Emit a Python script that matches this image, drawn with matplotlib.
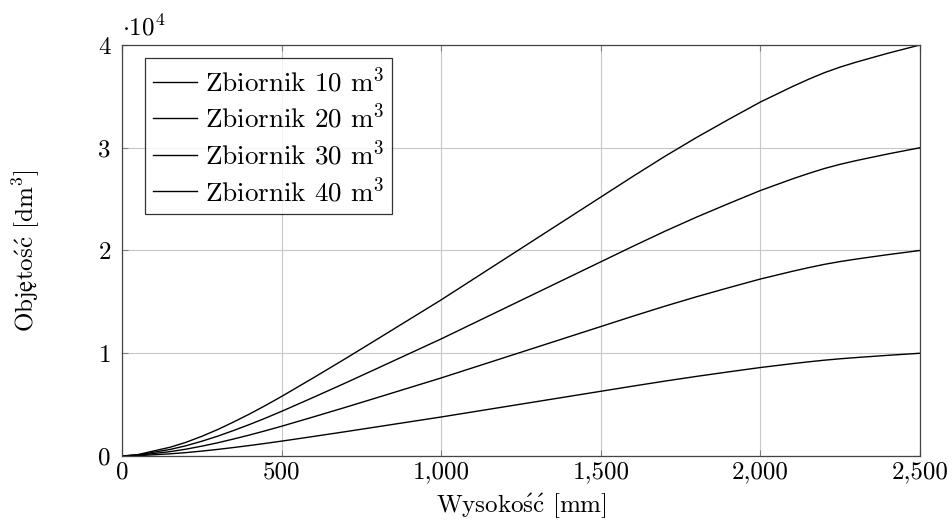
import matplotlib
matplotlib.use("Agg")
import matplotlib.pyplot as plt
from matplotlib.ticker import FuncFormatter

plt.rcParams["font.family"] = ["cmr10", "DejaVu Serif"]
plt.rcParams["mathtext.fontset"] = "cm"
plt.rcParams["axes.formatter.use_mathtext"] = True

# height of liquid [mm]
height = [0, 50, 100, 150, 200, 250, 300, 350, 400, 450, 500,
          600, 700, 800, 900, 1000, 1100, 1200, 1300, 1400, 1500,
          1600, 1700, 1800, 1900, 2000, 2100, 2150, 2200, 2250, 2300,
          2400, 2500]

# volume [dm3]
tank_10 = [0, 35, 125, 213, 333, 480, 645, 830, 1025, 1233, 1450,
           1905, 2370, 2845, 3323, 3800, 4300, 4800, 5300, 5800, 6300,
           6800, 7288, 7750, 8188, 8613, 8988, 9163, 9325, 9463, 9583,
           9800, 10000]
tank_20 = [0, 70, 250, 425, 665, 960, 1290, 1660, 2050, 2465, 2900,
           3810, 4740, 5690, 6645, 7600, 8600, 9600, 10600, 11600, 12600,
           13600, 14575, 15500, 16375, 17225, 17975, 18325, 18650, 18925, 19165,
           19600, 20000]
tank_30 = [0, 105, 375, 638, 998, 1440, 1935, 2490, 3075, 3698, 4350,
           5715, 7110, 8535, 9968, 11400, 12900, 14400, 15900, 17400, 18900,
           20400, 21863, 23250, 24563, 25838, 26963, 27488, 27975, 28388, 28748,
           29400, 30000]
tank_40 = [0, 140, 500, 850, 1330, 1920, 2580, 3320, 4100, 4930, 5800,
           7620, 9480, 11380, 13290, 15200, 17200, 19200, 21200, 23200, 25200,
           27200, 29150, 31000, 32750, 34450, 35950, 36650, 37300, 37850, 38330,
           39200, 40000]

series = [tank_10, tank_20, tank_30, tank_40]
labels = [r"Zbiornik 10 m$^3$", r"Zbiornik 20 m$^3$",
          r"Zbiornik 30 m$^3$", r"Zbiornik 40 m$^3$"]

x_ticks = [0, 500, 1000, 1500, 2000, 2500]
y_ticks = [0, 10000, 20000, 30000, 40000]

fig = plt.figure(figsize=(9.52, 5.31), dpi=100)
ax = fig.add_axes([0.1282, 0.1412, 0.9664 - 0.1282, 0.9153 - 0.1412])

for values, label in zip(series, labels):
    ax.plot(height, values, color="black", linewidth=1.0, label=label)

ax.set_xlim(0, 2500)
ax.set_ylim(0, 40000)
ax.set_xticks(x_ticks)
ax.set_yticks(y_ticks)
ax.xaxis.set_major_formatter(FuncFormatter(lambda v, _: f"{v:,.0f}"))
ax.yaxis.set_major_formatter(FuncFormatter(lambda v, _: f"{v / 1e4:.0f}"))
ax.tick_params(direction="in", length=4, width=0.8, color="#7f7f7f",
               top=True, right=True, labelsize=18)
ax.tick_params(axis="x", pad=4)
ax.tick_params(axis="y", pad=8)
ax.grid(True, color="#c8c8c8", linewidth=0.8)
for spine in ax.spines.values():
    spine.set_color("#444444")
    spine.set_linewidth(0.9)

ax.text(0.0, 1.01, r"$\cdot10^4$", transform=ax.transAxes,
        fontsize=18, ha="left", va="bottom")

ax.set_xlabel(r"Wysoko$\mathrm{\acute{s}\acute{c}}$ [mm]", fontsize=18)
ax.set_ylabel(r"Obj$\mathrm{ę}$to$\mathrm{\acute{s}\acute{c}}$ [dm$^3$]", fontsize=18)
ax.xaxis.set_label_coords(0.5, -0.085)
ax.yaxis.set_label_coords(-0.1, 0.5)

leg = ax.legend(loc="upper left", bbox_to_anchor=(0.029, 0.968), fontsize=19.5,
                frameon=True, fancybox=False, edgecolor="black",
                handlelength=1.6, handletextpad=0.3, borderpad=0.3,
                labelspacing=0.25, borderaxespad=0.0)
leg.get_frame().set_linewidth(0.9)

fig.savefig("out.png", dpi=100)
